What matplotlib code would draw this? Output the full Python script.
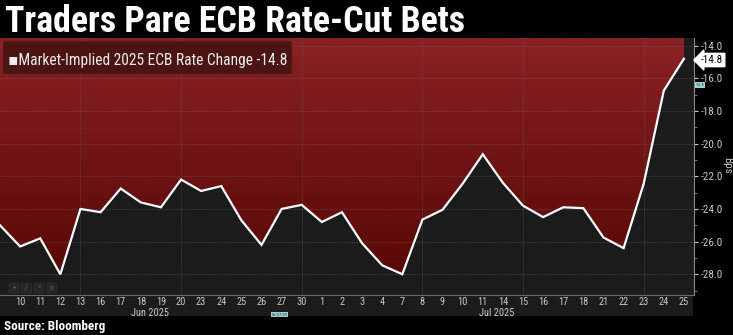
import matplotlib
matplotlib.use('Agg')
import numpy as np
import matplotlib.pyplot as plt
from matplotlib import font_manager
from matplotlib.colors import LinearSegmentedColormap
from matplotlib.patches import FancyBboxPatch, Rectangle
from matplotlib.ticker import MultipleLocator, FormatStrFormatter

# market-implied change in ECB policy rate by end-2025, bps (trading days Jun 9 - Jul 25)
day_labels = ['9', '10', '11', '12', '13', '16', '17', '18', '19', '20', '23', '24', '25', '26', '27', '30',
              '1', '2', '3', '4', '7', '8', '9', '10', '11', '14', '15', '16', '17', '18', '21', '22', '23', '24', '25']
implied_chg = [-25.0, -26.3, -25.8, -28.0, -24.0, -24.2, -22.75, -23.6, -23.9, -22.2, -22.9, -22.6, -24.7,
               -26.2, -24.0, -23.75, -24.8, -24.2, -26.1, -27.45, -28.0, -24.65, -24.05, -22.45, -20.65,
               -22.4, -23.8, -24.5, -23.9, -23.95, -25.75, -26.4, -22.45, -16.75, -14.8]
grid_days = [4, 9, 15, 21, 26, 32]
month_labels = ['Jun 2025', 'Jul 2025']
month_pos = [7.45, 24.7]
last_value = implied_chg[-1]

names = {f.name for f in font_manager.fontManager.ttflist}
narrow = 'DejaVu Sans'
for cand in ['Liberation Sans Narrow', 'Roboto Condensed', 'Open Sans Condensed', 'Noto Sans Condensed', 'Liberation Sans']:
    if cand in names:
        narrow = cand
        break
plt.rcParams['font.family'] = [narrow, 'DejaVu Sans']
plt.rcParams['axes.unicode_minus'] = False

W, H = 733, 335
fig = plt.figure(figsize=(W / 100, H / 100), dpi=100, facecolor='black')

def fx(px):
    return px / W

def fy(py):
    return 1 - py / H

# label strip under the plot
fig.patches.append(Rectangle((0, fy(316)), fx(693), fy(294.5) - fy(316), transform=fig.transFigure,
                             facecolor='#1b1b1b', edgecolor='none', zorder=-1))

ax = fig.add_axes([0, fy(294.5), fx(694), fy(38) - fy(294.5)])
ax.set_facecolor('#1b1b1b')
x = np.arange(len(implied_chg))
ymin, ymax = -29.24, -13.53
xmin, xmax = 0, 34.5
ax.set_xlim(xmin, xmax)
ax.set_ylim(ymin, ymax)

# red gradient above the curve
cmap = LinearSegmentedColormap.from_list('reds', ['#560705', '#6e1314', '#8c2125'])
poly = ax.fill_between(x, implied_chg, ymax, facecolor='none', edgecolor='none')
grad = np.linspace(0, 1, 256).reshape(-1, 1)
im = ax.imshow(grad, extent=[xmin, xmax, ymin, ymax], aspect='auto', origin='lower', cmap=cmap, zorder=1)
im.set_clip_path(poly.get_paths()[0], transform=ax.transData)

ax.plot(x, implied_chg, color='white', lw=1.6, zorder=3, solid_joinstyle='miter')

for g in grid_days:
    ax.axvline(g, color='#5a5a5a', lw=0.6, ls=(0, (1, 1)), alpha=0.7, zorder=2)
for gy in np.arange(-28, -13, 2):
    ax.axhline(gy, color='#6a6a6a', lw=0.6, ls=(0, (1, 1)), alpha=0.55, zorder=2)

# axes styling
for s in ['top', 'left']:
    ax.spines[s].set_visible(False)
ax.spines['right'].set_color('#8a8a8a')
ax.spines['bottom'].set_color('#6a6a6a')
ax.yaxis.tick_right()
ax.yaxis.set_major_locator(MultipleLocator(2))
ax.yaxis.set_minor_locator(MultipleLocator(1))
ax.yaxis.set_major_formatter(FormatStrFormatter('%.1f'))
ax.tick_params(axis='y', which='major', colors='#c8c8c8', labelsize=8, length=3, pad=2)
ax.tick_params(axis='y', which='minor', colors='#8a8a8a', length=2)
ax.set_xticks(x[1:])
ax.set_xticklabels(day_labels[1:])
ax.tick_params(axis='x', colors='#c8c8c8', labelsize=7.5, length=0, pad=2)
for lab in ax.get_yticklabels() + ax.get_xticklabels():
    lab.set_family([narrow, 'DejaVu Sans'])

for m, p in zip(month_labels, month_pos):
    ax.text(p, -0.072, m, transform=ax.get_xaxis_transform(), ha='center', va='center',
            color='#c8c8c8', fontsize=7.5)
ax.text(13.9, -0.078, '06/27/25', transform=ax.get_xaxis_transform(), ha='center', va='center',
        color='#1b3b3b', fontsize=3.2, bbox=dict(boxstyle='square,pad=0.15', fc='#9fd3d3', ec='none'))

# toolbar buttons in the lower-left corner
for i, g in enumerate(['+', '/', '=', 'o']):
    x0 = 9 + i * 12.5
    fig.patches.append(FancyBboxPatch((fx(x0), fy(293)), fx(10), fy(283) - fy(293),
                                      boxstyle='round,pad=0,rounding_size=0.002', transform=fig.transFigure,
                                      facecolor='#262626', edgecolor='#303030', lw=0.5, zorder=5))
    fig.text(fx(x0 + 5), fy(288), g, color='#6a6a6a', fontsize=5, ha='center', va='center', zorder=6)

# current value tag on the right axis
fig.text(fx(701), fy(60), '%.1f' % last_value, color='black', fontsize=8, ha='left', va='center',
         bbox=dict(boxstyle='larrow,pad=0.15', fc='white', ec='white'))
fig.text(fx(696), fy(85), '-16.8', color='#1b3b3b', fontsize=3.2, ha='left', va='center',
         bbox=dict(boxstyle='square,pad=0.15', fc='#9fd3d3', ec='none'))
fig.text(fx(727), fy(165), 'Bps', color='#c8c8c8', fontsize=8, rotation=-90, ha='center', va='center')

# legend box
fig.patches.append(FancyBboxPatch((fx(3), fy(74)), fx(289), fy(41) - fy(74),
                                  boxstyle='round,pad=0,rounding_size=0.004', transform=fig.transFigure,
                                  facecolor='#4a1412', edgecolor='#5a2422', lw=0.6, zorder=5))
leg = fig.text(fx(8), fy(64.5), '\u25aaMarket-Implied 2025 ECB Rate Change -14.8', color='#ececec',
               fontsize=10, ha='left', va='baseline', zorder=6)

title = fig.text(fx(5), fy(31.7), 'Traders Pare ECB Rate-Cut Bets', color='white', fontsize=23,
                 fontweight='bold', ha='left', va='baseline')
src = fig.text(fx(4), fy(330), 'Source: Bloomberg', color='white', fontsize=8.5, fontweight='bold',
               ha='left', va='baseline')

# scale text to the space it has
fig.canvas.draw()
r = fig.canvas.get_renderer()
for t, target in [(title, 462), (leg, 279), (src, 100)]:
    w = t.get_window_extent(r).width
    t.set_fontsize(t.get_fontsize() * target / w)

fig.savefig('out.png', dpi=100, facecolor='black')
